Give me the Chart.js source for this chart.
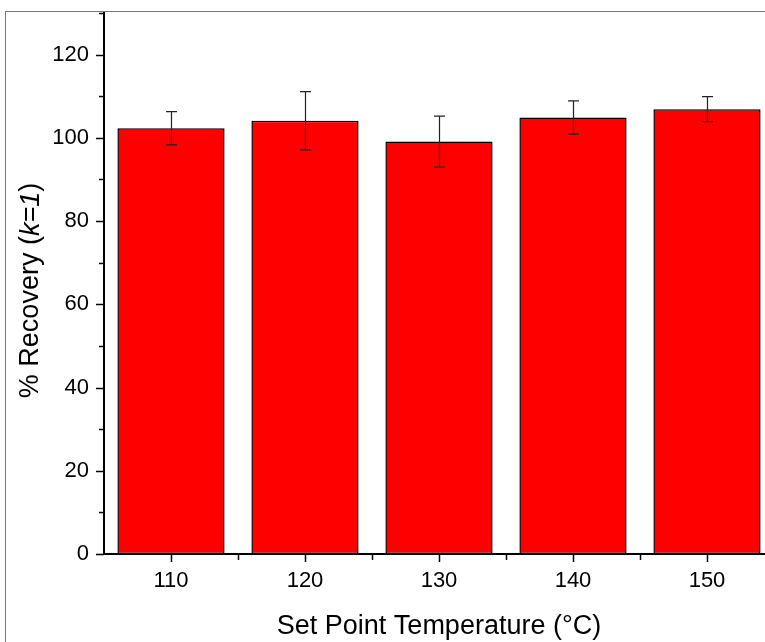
<!DOCTYPE html>
<html>
<head>
<meta charset="utf-8">
<script src="https://cdn.jsdelivr.net/npm/chart.js@4"></script>
<style>
  html, body { margin: 0; padding: 0; background: #fff; }
  #wrap { position: relative; width: 765px; height: 642px; overflow: hidden; }
  #frame { position: absolute; left: 5px; top: 11px; width: 820px; height: 700px; border: 1px solid #777; }
  #myChart { position: absolute; left: 0; top: 0; }
</style>
</head>
<body>
<div id="wrap">
  <div id="frame"></div>
  <canvas id="myChart" width="800" height="660"></canvas>
</div>
<script>
const temps = ["110", "120", "130", "140", "150"];
const recovery = [102.3, 104.1, 99.1, 104.9, 106.9];
const errors = [4.0, 7.0, 6.1, 4.0, 3.0];
const yMin = 0;
const yMax = 130;
const yStep = 10;

const fontFamily = "'Liberation Sans', Arial, sans-serif";

// error bars + outward ticks (major and minor) drawn on top
const extras = {
  id: "extras",
  afterDatasetsDraw(chart) {
    const ctx = chart.ctx;
    const x = chart.scales.x;
    const y = chart.scales.y;
    const meta = chart.getDatasetMeta(0);
    ctx.save();

    // error bars
    ctx.strokeStyle = "#222";
    ctx.lineWidth = 1.2;
    meta.data.forEach((bar, i) => {
      const hi = y.getPixelForValue(recovery[i] + errors[i]);
      const lo = y.getPixelForValue(recovery[i] - errors[i]);
      const cx = Math.round(bar.x) + 0.5;
      ctx.beginPath();
      ctx.moveTo(cx, hi); ctx.lineTo(cx, lo);
      ctx.moveTo(cx - 5.5, hi); ctx.lineTo(cx + 5.5, hi);
      ctx.moveTo(cx - 5.5, lo); ctx.lineTo(cx + 5.5, lo);
      ctx.stroke();
    });

    // y ticks
    ctx.strokeStyle = "#000";
    ctx.lineWidth = 1.5;
    const left = chart.chartArea.left;
    for (let v = yMin; v <= yMax; v += yStep) {
      const py = Math.round(y.getPixelForValue(v)) + 0.5;
      const len = v % 20 === 0 ? 8 : 5;
      ctx.beginPath();
      ctx.moveTo(left - len, py); ctx.lineTo(left, py);
      ctx.stroke();
    }

    // x ticks
    const bottom = chart.chartArea.bottom;
    const step = x.getPixelForValue(1) - x.getPixelForValue(0);
    temps.forEach((t, i) => {
      const px = Math.round(x.getPixelForValue(i)) + 0.5;
      ctx.beginPath();
      ctx.moveTo(px, bottom); ctx.lineTo(px, bottom + 8);
      const mx = Math.round(x.getPixelForValue(i) + step / 2) + 0.5;
      ctx.moveTo(mx, bottom); ctx.lineTo(mx, bottom + 6);
      ctx.stroke();
    });

    // y title with italic k=1
    const parts = [["% Recovery (", "normal"], ["k=1", "italic"], [")", "normal"]];
    const size = 27;
    let total = 0;
    parts.forEach(p => {
      ctx.font = p[1] + " " + size + "px " + fontFamily;
      total += ctx.measureText(p[0]).width;
    });
    ctx.translate(31, (chart.chartArea.top + chart.chartArea.bottom) / 2 + 7);
    ctx.rotate(-Math.PI / 2);
    ctx.fillStyle = "#000";
    ctx.textBaseline = "middle";
    ctx.textAlign = "left";
    let pos = -total / 2;
    parts.forEach(p => {
      ctx.font = p[1] + " " + size + "px " + fontFamily;
      ctx.fillText(p[0], pos, 0);
      pos += ctx.measureText(p[0]).width;
    });
    ctx.restore();
  }
};

const data = {
  labels: temps,
  datasets: [
    {
      label: "% Recovery",
      data: recovery,
      backgroundColor: "#ff0000",
      borderColor: "#000",
      borderWidth: 1.5,
      borderSkipped: false,
      categoryPercentage: 1.0,
      barPercentage: 0.8,
    },
  ],
};

const config = {
  type: "bar",
  data,
  options: {
    responsive: false,
    animation: false,
    devicePixelRatio: 1,
    layout: { padding: { top: 13, right: 26, bottom: 0, left: 0 } },
    plugins: {
      legend: { display: false },
      tooltip: { enabled: false },
    },
    scales: {
      x: {
        afterFit(scale) {
          scale.height = 106;
          scale.paddingLeft = 0;
          scale.paddingRight = 0;
        },
        grid: { display: false, drawTicks: false },
        border: { display: true, color: "#000", width: 2 },
        ticks: {
          color: "#000",
          padding: 14,
          font: { family: fontFamily, size: 22 },
        },
        title: {
          display: true,
          text: "Set Point Temperature (°C)",
          color: "#000",
          font: { family: fontFamily, size: 27 },
          padding: { top: 0, bottom: 17 },
        },
      },
      y: {
        min: yMin,
        max: yMax,
        afterFit(scale) {
          scale.width = 104;
          scale.paddingTop = 0;
          scale.paddingBottom = 0;
        },
        grid: { display: false, drawTicks: false },
        border: { display: true, color: "#000", width: 2 },
        ticks: {
          stepSize: yStep,
          color: "#000",
          padding: 15,
          font: { family: fontFamily, size: 22 },
          callback: (v) => (v % 20 === 0 ? v : ""),
        },
      },
    },
  },
  plugins: [extras],
};

var myChart = new Chart(document.getElementById("myChart"), config);
</script>
</body>
</html>
